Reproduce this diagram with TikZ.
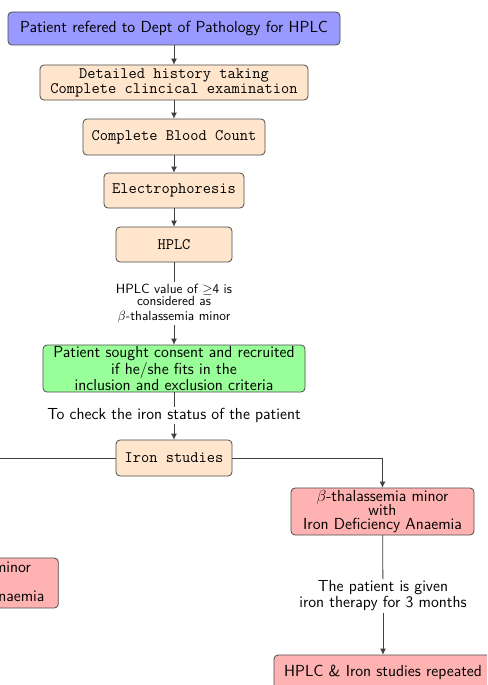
\documentclass[tikz,border=0pt]{standalone}
\usetikzlibrary{arrows.meta}
\begin{document}
\begin{tikzpicture}[x=0.75pt,y=-0.75pt,
  base/.style={draw=black!70, line width=0.6pt, rounded corners=3pt, align=center, inner xsep=2pt, inner ysep=0.5pt},
  bigsf/.style={font=\sffamily\fontsize{12}{10.8}\selectfont},
  bigtt/.style={font=\ttfamily\fontsize{12}{10.8}\selectfont},
  bluebox/.style={base, fill=blue!40, bigsf},
  peachbox/.style={base, fill=orange!20, bigtt},
  greenbox/.style={base, fill=green!40, bigsf},
  redbox/.style={base, fill=red!30, bigsf},
  lbl/.style={align=center, bigsf, inner sep=1pt},
  conn/.style={draw=black!75, line width=0.6pt},
  arr/.style={conn, -{Latex[length=4.5pt,width=4.5pt]}}]
\useasboundingbox (0,0) rectangle (487,685);
\clip (0,0) rectangle (487,685);
\fill[white] (0,0) rectangle (487,685);

\node[bluebox, minimum width=249pt, minimum height=24.75pt] (p) at (174,28.5) {Patient refered to Dept of Pathology for HPLC};
\node[peachbox, minimum width=201pt, minimum height=26.25pt] (hist) at (174,82.5) {Detailed history taking\\[0.6pt]Complete clincical examination};
\node[peachbox, minimum width=136.5pt, minimum height=27pt] (cbc) at (174,137) {Complete Blood Count};
\node[peachbox, minimum width=105pt, minimum height=26.25pt] (elec) at (174,190.5) {Electrophoresis};
\node[peachbox, minimum width=87pt, minimum height=26.25pt] (hplc) at (174,244.5) {HPLC};
\node[lbl, font=\sffamily\fontsize{10}{9.6}\selectfont] (l1) at (174,303.5) {HPLC value of $\geq$4 is\\considered as\\[1.5pt]$\beta$-thalassemia minor};
\node[greenbox, minimum width=196.5pt, minimum height=35.25pt] (cons) at (174,368.5) {Patient sought consent and recruited\\if he/she fits in the\\inclusion and exclusion criteria};
\node[lbl] (l2) at (174,415.5) {To check the iron status of the patient};
\node[peachbox, minimum width=87pt, minimum height=27pt] (iron) at (174,458) {Iron studies};
\node[redbox, minimum width=137.25pt, minimum height=35.25pt] (ida) at (382.5,511.5) {$\beta$-thalassemia minor\\with\\Iron Deficiency Anaemia};
\node[redbox, minimum width=140pt, minimum height=37.5pt] (noida) at (-35,583) {$\beta$-thalassemia minor\\without\\Iron Deficiency Anaemia};
\node[lbl] (l3) at (383,596) {The patient is given\\iron therapy for 3 months};
\node[redbox, minimum width=163.5pt, minimum height=26.25pt] (rep) at (383,672.5) {HPLC \& Iron studies repeated};

\draw[arr] (p) -- (hist);
\draw[arr] (hist) -- (cbc);
\draw[arr] (cbc) -- (elec);
\draw[arr] (elec) -- (hplc);
\draw[conn] (hplc) -- (l1);
\draw[arr] (l1) -- (cons);
\draw[conn] (cons) -- (l2);
\draw[arr] (l2) -- (iron);
\draw[arr] (iron.east) -| (ida.north);
\draw[arr] (iron.west) -| (noida.north);
\draw[conn] (ida) -- (l3);
\draw[arr] (l3) -- (rep);
\end{tikzpicture}
\end{document}
